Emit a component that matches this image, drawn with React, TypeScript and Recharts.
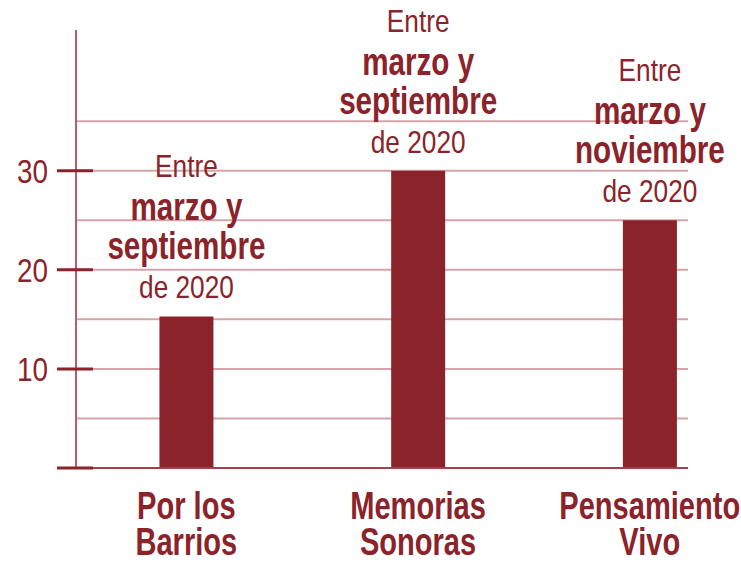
import React from "react";
import { BarChart, Bar, XAxis, YAxis, CartesianGrid, LabelList } from "recharts";

const categoryLines: string[][] = [
  ["Por los", "Barrios"],
  ["Memorias", "Sonoras"],
  ["Pensamiento", "Vivo"],
];
const values: number[] = [15.3, 30, 25];
const labelStart = "Entre";
const labelFrom = "marzo y";
const labelTo: string[] = ["septiembre", "septiembre", "noviembre"];
const labelYear = "de 2020";
const yTicks: number[] = [0, 10, 20, 30];
const gridValues: number[] = [5, 10, 15, 20, 25, 30, 35];

const data = values.map((v, i) => ({ idx: i, value: v }));

const DARK = "#8B232B";
const GRID = "#D6A4A8";
const AXIS = "#B3606A";
const FONT = "'Liberation Sans', Arial, sans-serif";

const NarrowText = (p: { x: number; y: number; size: number; squeeze?: number; bold?: boolean; anchor?: string; children: any }) => (
  <text
    transform={`translate(${p.x} ${p.y}) scale(${p.squeeze || 0.82} 1)`}
    x={0}
    y={0}
    textAnchor={p.anchor || "middle"}
    fontSize={p.size}
    fontWeight={p.bold ? "bold" : "normal"}
    fill={DARK}
    fontFamily={FONT}
  >
    {p.children}
  </text>
);

const YTick = (props: any) => {
  const { x, y, payload } = props;
  return (
    <g>
      <line x1={x - 19} x2={x + 17} y1={y} y2={y} stroke={DARK} strokeWidth={3} />
      {payload.value !== 0 && (
        <NarrowText x={x - 28} y={y + 12} size={34} anchor="end">
          {payload.value}
        </NarrowText>
      )}
    </g>
  );
};

const XTick = (props: any) => {
  const { x, y, payload } = props;
  const lines = categoryLines[payload.value] || [];
  return (
    <g>
      {lines.map((l, i) => (
        <NarrowText key={i} x={x} y={y + 51 + i * 36} size={38} squeeze={0.765} bold>
          {l}
        </NarrowText>
      ))}
    </g>
  );
};

const BarLabel = (props: any) => {
  const { x, y, width, index } = props;
  const cx = x + width / 2;
  return (
    <g>
      <NarrowText x={cx} y={y - 139} size={32}>{labelStart}</NarrowText>
      <NarrowText x={cx} y={y - 96} size={38} squeeze={0.78} bold>{labelFrom}</NarrowText>
      <NarrowText x={cx} y={y - 57} size={38} squeeze={0.78} bold>{labelTo[index]}</NarrowText>
      <NarrowText x={cx} y={y - 18} size={32}>{labelYear}</NarrowText>
    </g>
  );
};

export default function App() {
  return (
    <div style={{ position: "absolute", left: 0, top: 0, background: "#fff" }}>
      <BarChart width={741} height={562} data={data} margin={{ top: 30, right: 53, left: 0, bottom: 0 }}>
        <CartesianGrid vertical={false} horizontalValues={gridValues} stroke={GRID} strokeWidth={2} />
        <XAxis
          type="number"
          dataKey="idx"
          domain={[-0.476, 2.165]}
          ticks={[0, 1, 2]}
          height={94}
          tickSize={0}
          tickMargin={0}
          tickLine={false}
          axisLine={{ stroke: "#A3404A", strokeWidth: 2 }}
          tick={<XTick />}
        />
        <YAxis
          type="number"
          domain={[0, 44.2]}
          ticks={yTicks}
          width={76}
          tickSize={0}
          tickMargin={0}
          tickLine={false}
          axisLine={{ stroke: AXIS, strokeWidth: 2 }}
          tick={<YTick />}
        />
        <Bar dataKey="value" fill={DARK} barSize={54} isAnimationActive={false}>
          <LabelList dataKey="value" content={<BarLabel />} />
        </Bar>
      </BarChart>
    </div>
  );
}
